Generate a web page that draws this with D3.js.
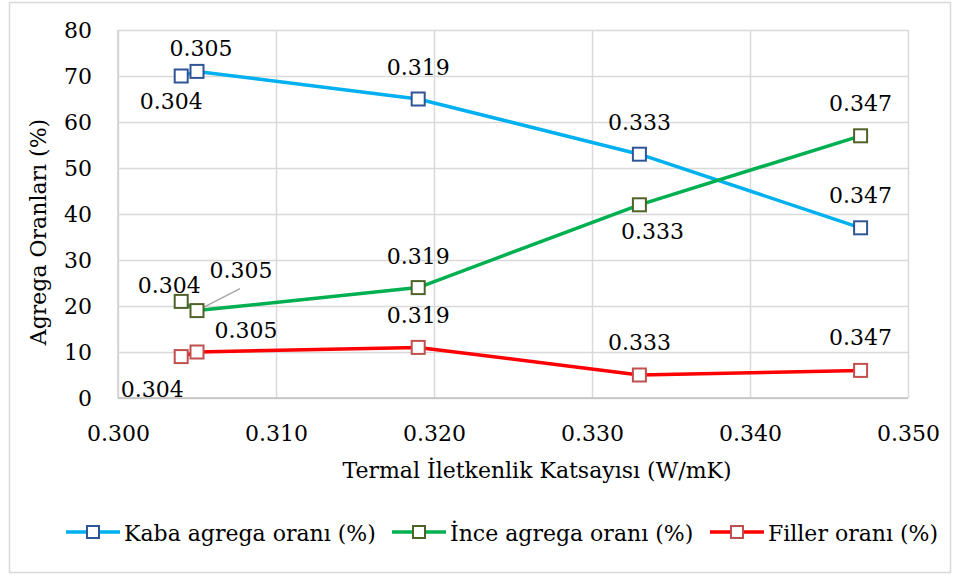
<!DOCTYPE html>
<html>
<head>
<meta charset="utf-8">
<script src="https://cdn.jsdelivr.net/npm/d3@7/dist/d3.min.js"></script>
<style>
  html, body { margin: 0; padding: 0; background: #fff; }
  svg text { font-family: "DejaVu Serif", "Liberation Serif", serif; fill: #000; }
</style>
</head>
<body>
<svg id="chart" width="960" height="581"></svg>
<script>
// Thermal conductivity (W/mK) of each mix
const conductivity = [0.304, 0.305, 0.319, 0.333, 0.347];
// Aggregate shares (%) per mix
const coarseShare = [70, 71, 65, 53, 37];
const fineShare   = [21, 19, 24, 42, 57];
const fillerShare = [9, 10, 11, 5, 6];

const seriesNames = ["Kaba agrega oranı (%)", "İnce agrega oranı (%)", "Filler oranı (%)"];
const xTicks = [0.300, 0.310, 0.320, 0.330, 0.340, 0.350];
const yTicks = [0, 10, 20, 30, 40, 50, 60, 70, 80];

const xTitle = "Termal İletkenlik Katsayısı (W/mK)";
const yTitle = "Agrega Oranları (%)";

// Label placement relative to each marker: [dx, dy of baseline]
const labelOffsets = [
  [[-10, 33], [4, -15], [0, -24], [0, -24], [0, -25]],
  [[-12, -8], [44, -33], [0, -24], [13, 34], [0, -25]],
  [[-29, 40], [49, -14], [0, -24], [0, -25], [0, -25]]
];

const styles = [
  { line: "#00b0f0", marker: "#2f5597" },
  { line: "#00b050", marker: "#4f6228" },
  { line: "#ff0000", marker: "#c0504d" }
];

const seriesValues = [coarseShare, fineShare, fillerShare];

const svg = d3.select("#chart");
const plotL = 118, plotR = 908, plotT = 30, plotB = 398;

// Outer frame
svg.append("rect")
  .attr("x", 9.5).attr("y", 2.5)
  .attr("width", 941).attr("height", 570)
  .attr("fill", "#fff").attr("stroke", "#d9d9d9").attr("stroke-width", 1.5);

const x = d3.scaleLinear().domain([0.300, 0.350]).range([plotL, plotR]);
const y = d3.scaleLinear().domain([0, 80]).range([plotB, plotT]);

// Gridlines
const gx = svg.append("g").attr("transform", `translate(0,${plotB})`)
  .call(d3.axisBottom(x).tickValues(xTicks).tickSize(-(plotB - plotT)).tickFormat(""));
gx.select(".domain").remove();
gx.selectAll("line").attr("stroke", "#d9d9d9").attr("stroke-width", 1.5);

const gy = svg.append("g").attr("transform", `translate(${plotL},0)`)
  .call(d3.axisLeft(y).tickValues(yTicks).tickSize(-(plotR - plotL)).tickFormat(""));
gy.select(".domain").remove();
gy.selectAll("line").attr("stroke", "#d9d9d9").attr("stroke-width", 1.5);

// Axis lines
svg.append("line").attr("x1", plotL).attr("x2", plotL).attr("y1", plotT).attr("y2", plotB)
  .attr("stroke", "#d0d0d0").attr("stroke-width", 1.5);
svg.append("line").attr("x1", plotL).attr("x2", plotR).attr("y1", plotB).attr("y2", plotB)
  .attr("stroke", "#bfbfbf").attr("stroke-width", 1.5);

// Tick labels
const xAxis = svg.append("g").attr("transform", `translate(0,${plotB})`)
  .call(d3.axisBottom(x).tickValues(xTicks).tickSize(0).tickPadding(27).tickFormat(d3.format(".3f")));
xAxis.select(".domain").remove();
xAxis.selectAll("text").attr("font-size", 22).attr("font-family", "DejaVu Serif").attr("fill", "#000");

const yAxis = svg.append("g").attr("transform", `translate(${plotL},0)`)
  .call(d3.axisLeft(y).tickValues(yTicks).tickSize(0).tickPadding(26).tickFormat(d3.format("d")));
yAxis.select(".domain").remove();
yAxis.selectAll("text").attr("font-size", 22).attr("font-family", "DejaVu Serif").attr("fill", "#000");

// Axis titles
svg.append("text").attr("x", 537).attr("y", 478).attr("text-anchor", "middle")
  .attr("font-size", 22).text(xTitle);
svg.append("text").attr("transform", "translate(46,232) rotate(-90)")
  .attr("text-anchor", "middle").attr("font-size", 22).text(yTitle);

// Series
const line = d3.line().x(d => x(d[0])).y(d => y(d[1]));
const mk = 13;

seriesValues.forEach((vals, si) => {
  const pts = conductivity.map((c, i) => [c, vals[i]]);
  const g = svg.append("g");
  g.append("path").datum(pts).attr("d", line)
    .attr("fill", "none").attr("stroke", styles[si].line).attr("stroke-width", 3.5)
    .attr("stroke-linejoin", "round");

  // leader line for the displaced label
  pts.forEach((p, i) => {
    const [dx, dy] = labelOffsets[si][i];
    if (si === 1 && i === 1) {
      g.append("line")
        .attr("x1", x(p[0]) + 2).attr("y1", y(p[1]) - 1)
        .attr("x2", x(p[0]) + dx - 1).attr("y2", y(p[1]) + dy + 11)
        .attr("stroke", "#a6a6a6").attr("stroke-width", 1.5);
    }
  });

  g.selectAll("rect.m").data(pts).join("rect").attr("class", "m")
    .attr("x", d => x(d[0]) - mk / 2).attr("y", d => y(d[1]) - mk / 2)
    .attr("width", mk).attr("height", mk)
    .attr("fill", "#fff").attr("stroke", styles[si].marker).attr("stroke-width", 2);

  g.selectAll("text.lbl").data(pts).join("text").attr("class", "lbl")
    .attr("x", (d, i) => x(d[0]) + labelOffsets[si][i][0])
    .attr("y", (d, i) => y(d[1]) + labelOffsets[si][i][1])
    .attr("text-anchor", "middle").attr("font-size", 22)
    .text(d => d3.format(".3f")(d[0]));
});

// Legend
const legendX = [66, 392, 710];
const legendY = 532;
seriesNames.forEach((name, si) => {
  const g = svg.append("g").attr("transform", `translate(${legendX[si]},${legendY})`);
  g.append("line").attr("x1", 0).attr("x2", 54).attr("y1", 0).attr("y2", 0)
    .attr("stroke", styles[si].line).attr("stroke-width", 3.5);
  g.append("rect").attr("x", 27 - 6).attr("y", -6).attr("width", 12).attr("height", 12)
    .attr("fill", "#fff").attr("stroke", styles[si].marker).attr("stroke-width", 2);
  g.append("text").attr("x", 58).attr("y", 9).attr("font-size", 22).text(name);
});
</script>
</body>
</html>
